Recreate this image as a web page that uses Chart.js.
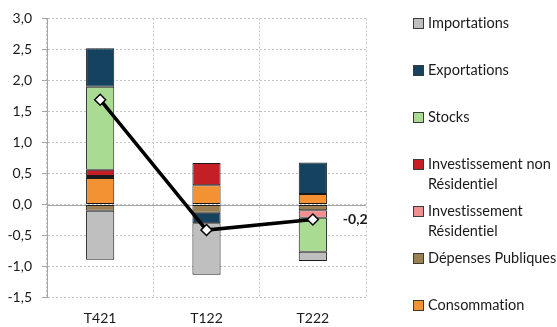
<!DOCTYPE html>
<html>
<head>
<meta charset="utf-8">
<script src="https://cdn.jsdelivr.net/npm/chart.js@4/dist/chart.umd.min.js"></script>
<style>
    body { margin: 0; background: #fff; }
    #wrap { position: relative; width: 557px; height: 327px; overflow: hidden; font-family: Lato, sans-serif; }
    #chart { position: absolute; left: 0; top: 0; }
    #legend { position: absolute; left: 413px; top: 0; width: 170px; }
    .item { height: 47px; display: flex; align-items: flex-start; font-size: 14.5px; line-height: 20px; color: #1a1a1a; box-sizing: border-box; padding-top: 13px; white-space: nowrap; font-variant-ligatures: none; }
    .box { width: 9px; height: 9px; border: 1px solid #3a3a3a; margin-top: 5px; margin-right: 4px; flex: none; }
</style>
</head>
<body>
<div id="wrap">
    <canvas id="chart" width="557" height="327"></canvas>
    <div id="legend"></div>
</div>
<script>
// ── Data ─────────────────────────────────
const categories = ['T421', 'T122', 'T222'];
const consommation = [0.43, 0.31, 0.17];
const depensesPubliques = [-0.10, -0.13, -0.09];
const investResidentiel = [0.03, 0, -0.12];
const investNonResidentiel = [0.10, 0.36, 0];
const stocks = [1.34, 0, -0.55];
const exportations = [0.62, -0.17, 0.51];
const importations = [-0.79, -0.83, -0.15];
const total = [1.69, -0.41, -0.24];
const totalLabels = ['', '', '-0,2'];

const series = [
    { label: 'Consommation', data: consommation, color: '#F39233' },
    { label: 'Dépenses Publiques', data: depensesPubliques, color: '#9C7F52' },
    { label: 'Investissement<br>Résidentiel', data: investResidentiel, color: '#F08E90' },
    { label: 'Investissement non<br>Résidentiel', data: investNonResidentiel, color: '#C41F27' },
    { label: 'Stocks', data: stocks, color: '#A9DB92' },
    { label: 'Exportations', data: exportations, color: '#15435F' },
    { label: 'Importations', data: importations, color: '#BFBFBF' }
];

const axisGrey = '#A6A6A6';
const gridGrey = '#C4C4C4';
const textColor = '#1a1a1a';

Chart.defaults.font.family = "Lato, sans-serif";
Chart.defaults.font.size = 14;
Chart.defaults.color = textColor;

// solid zero line + label on last point
const extras = {
    id: 'extras',
    beforeDatasetsDraw(chart) {
        const { ctx, chartArea, scales } = chart;
        const y0 = Math.round(scales.y.getPixelForValue(0)) + 0.5;
        ctx.save();
        ctx.strokeStyle = axisGrey;
        ctx.lineWidth = 1;
        ctx.beginPath();
        ctx.moveTo(chartArea.left, y0);
        ctx.lineTo(chartArea.right, y0);
        ctx.stroke();
        ctx.restore();
    },
    afterDatasetsDraw(chart) {
        const { ctx } = chart;
        const meta = chart.getDatasetMeta(series.length);
        ctx.save();
        ctx.font = 'bold 14px Lato, sans-serif';
        ctx.fillStyle = textColor;
        ctx.textBaseline = 'middle';
        meta.data.forEach((pt, i) => {
            if (totalLabels[i]) ctx.fillText(totalLabels[i], pt.x + 30, pt.y);
        });
        ctx.restore();
    }
};

const datasets = series.map(s => ({
    type: 'bar', label: s.label.replace('<br>', ' '), data: s.data,
    backgroundColor: s.color, borderColor: '#1a1a1a', borderWidth: 1, borderSkipped: false,
    stack: 'a', order: 1, barPercentage: 0.265, categoryPercentage: 1
}));
datasets.push({
    type: 'line', label: 'Total', data: total, stack: 'line', order: 0,
    borderColor: '#000', borderWidth: 3.5, pointStyle: 'rectRot', pointRadius: 5.5,
    pointBackgroundColor: '#fff', pointBorderColor: '#000', pointBorderWidth: 1.5
});

new Chart(document.getElementById('chart'), {
    data: { labels: categories, datasets: datasets },
    options: {
        responsive: false, animation: false,
        layout: { padding: { top: 16, right: 191, left: 0, bottom: 0 } },
        plugins: { legend: { display: false }, tooltip: { enabled: false } },
        scales: {
            x: {
                stacked: true,
                grid: { color: gridGrey, drawTicks: false, offset: true },
                border: { display: false, dash: [2, 2] },
                ticks: { padding: 12, color: textColor },
                afterFit: s => { s.height = 29.3; }
            },
            y: {
                stacked: true, min: -1.5, max: 3,
                ticks: { stepSize: 0.5, padding: 10, color: textColor, callback: v => v.toFixed(1).replace('.', ',') },
                grid: { color: gridGrey, tickColor: axisGrey, tickLength: 5 },
                border: { display: true, color: axisGrey, width: 1, dash: [2, 2] },
                afterFit: s => { s.width = 47; }
            }
        }
    },
    plugins: [extras]
});

// ── HTML legend (reverse order, like the stacks) ──
const legend = document.getElementById('legend');
series.slice().reverse().forEach(s => {
    const row = document.createElement('div');
    row.className = 'item';
    row.innerHTML = '<span class="box" style="background:' + s.color + '"></span><span>' + s.label + '</span>';
    legend.appendChild(row);
});
</script>
</body>
</html>
